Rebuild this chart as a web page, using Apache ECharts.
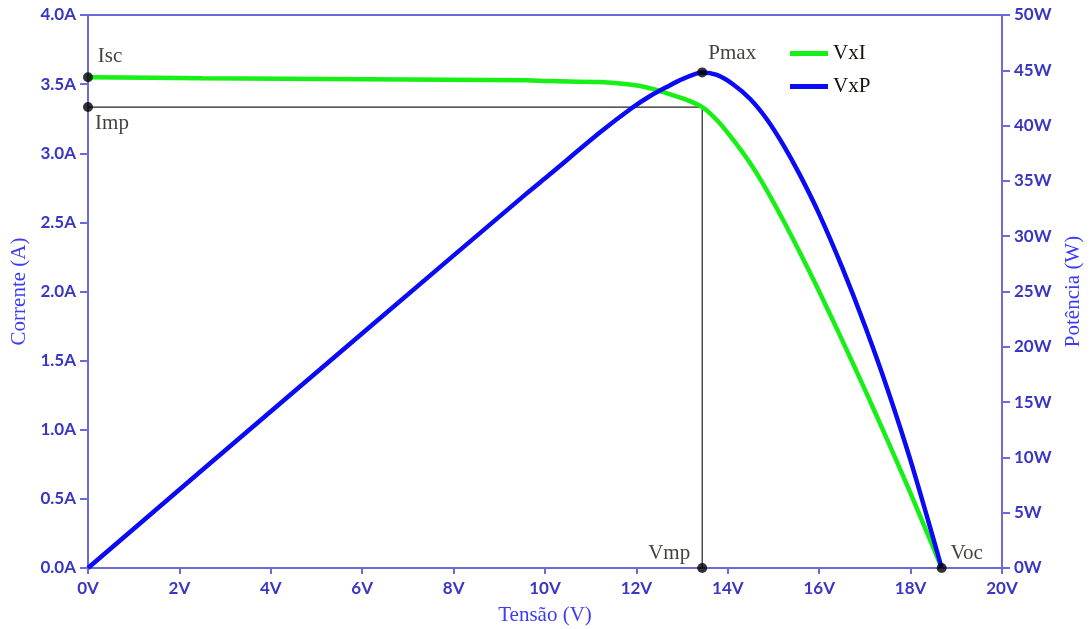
<!DOCTYPE html>
<html>
<head>
<meta charset="utf-8">
<script src="https://cdn.jsdelivr.net/npm/echarts@6/dist/echarts.min.js"></script>
<style>html,body{margin:0;padding:0;background:#fff}#c{width:1090px;height:629px}</style>
</head>
<body>
<div id="c"></div>
<script>
// Data
const voltage = [0, 2.5, 6.1, 9.6, 10.1, 11.2, 11.9, 12.3, 12.66, 13.03, 13.44, 13.76, 14.12, 14.49, 14.85, 15.21, 15.58, 16.0, 16.5, 17.0, 17.5, 18.0, 18.68];
const current = [3.55, 3.543, 3.536, 3.528, 3.522, 3.515, 3.495, 3.47, 3.435, 3.395, 3.334, 3.24, 3.096, 2.927, 2.734, 2.517, 2.28, 2.0, 1.65, 1.29, 0.92, 0.54, 0];
const power   = [0, 8.86, 21.57, 33.87, 35.57, 39.37, 41.59, 42.68, 43.49, 44.24, 44.81, 44.58, 43.72, 42.41, 40.6, 38.28, 35.52, 32.0, 27.2, 21.9, 16.1, 9.7, 0];

const Isc = 3.55, Imp = 3.334, Vmp = 13.44, Voc = 18.68, Pmax = 44.81;

const xTicks = {min: 0, max: 20, interval: 2};
const iTicks = {min: 0, max: 4, interval: 0.5};
const pTicks = {min: 0, max: 50, interval: 5};

const axisColor = '#6c6ad8';
const labelColor = '#3a36c4';
const nameColor = '#3c3cf2';
const tickFont = {color: labelColor, fontFamily: 'Lato', fontWeight: 'bold', fontSize: 17};
const nameFont = {color: nameColor, fontFamily: 'Liberation Serif', fontSize: 21};
const annFont = {color: '#140f0a', fontFamily: 'Liberation Serif', fontSize: 21};

const ivData = voltage.map((v, i) => [v, current[i]]);
const pvData = voltage.map((v, i) => [v, power[i]]);

const chart = echarts.init(document.getElementById('c'), null, {renderer: 'canvas'});
chart.setOption({
  animation: false,
  backgroundColor: '#ffffff',
  grid: {left: 88, right: 88, top: 15, bottom: 61, show: true, borderColor: axisColor, borderWidth: 2,
         containLabel: false, outerBoundsMode: 'none'},
  legend: {
    data: ['VxI', 'VxP'], orient: 'vertical', left: 785, top: 38, itemGap: 12,
    itemWidth: 38, itemHeight: 5, icon: 'rect',
    textStyle: {color: '#140f0a', fontFamily: 'Liberation Serif', fontSize: 21}
  },
  xAxis: {
    type: 'value', min: xTicks.min, max: xTicks.max, interval: xTicks.interval,
    name: 'Tensão (V)', nameLocation: 'middle', nameGap: 37, nameTextStyle: nameFont,
    axisLine: {show: true, lineStyle: {color: axisColor, width: 2}},
    axisTick: {show: true, length: 6, lineStyle: {color: axisColor, width: 2}},
    axisLabel: Object.assign({margin: 12, formatter: v => v + 'V'}, tickFont),
    splitLine: {show: false}
  },
  yAxis: [{
    type: 'value', min: iTicks.min, max: iTicks.max, interval: iTicks.interval,
    name: 'Corrente (A)', nameLocation: 'middle', nameGap: 58, nameTextStyle: nameFont,
    axisLine: {show: true, lineStyle: {color: axisColor, width: 2}},
    axisTick: {show: true, length: 8, lineStyle: {color: axisColor, width: 2}},
    axisLabel: Object.assign({margin: 12, formatter: v => v.toFixed(1) + 'A'}, tickFont),
    splitLine: {show: false}
  }, {
    type: 'value', position: 'right', min: pTicks.min, max: pTicks.max, interval: pTicks.interval,
    name: 'Potência (W)', nameLocation: 'middle', nameGap: 60, nameTextStyle: nameFont,
    axisLine: {show: true, lineStyle: {color: axisColor, width: 2}},
    axisTick: {show: true, length: 8, lineStyle: {color: axisColor, width: 2}},
    axisLabel: Object.assign({margin: 12, formatter: v => v + 'W'}, tickFont),
    splitLine: {show: false}
  }],
  series: [
    {
      name: 'guide', type: 'line', yAxisIndex: 0, symbol: 'none', silent: true,
      lineStyle: {color: '#222', width: 1.2}, z: 1,
      data: [[0, Imp], [Vmp, Imp], [Vmp, 0]]
    },
    {
      name: 'VxI', type: 'line', yAxisIndex: 0, smooth: 0.3, symbol: 'none',
      lineStyle: {color: '#16f016', width: 4.5}, itemStyle: {color: '#16f016'}, z: 2,
      data: ivData
    },
    {
      name: 'VxP', type: 'line', yAxisIndex: 1, smooth: 0.3, symbol: 'none',
      lineStyle: {color: '#0a0af5', width: 4.5}, itemStyle: {color: '#0a0af5'}, z: 3,
      data: pvData
    },
    {
      name: 'pointsI', type: 'scatter', yAxisIndex: 0, symbolSize: 10, z: 5,
      itemStyle: {color: '#000'},
      label: Object.assign({show: true, formatter: p => p.name}, annFont),
      data: [
        {name: 'Isc', value: [0, Isc], label: {position: 'top', offset: [22, 0]}},
        {name: 'Imp', value: [0, Imp], label: {position: 'bottom', offset: [24, -4]}},
        {name: 'Vmp', value: [Vmp, 0], label: {position: 'top', offset: [-33, 6]}},
        {name: 'Voc', value: [Voc, 0], label: {position: 'top', offset: [25, 6]}}
      ]
    },
    {
      name: 'pointsP', type: 'scatter', yAxisIndex: 1, symbolSize: 10, z: 5,
      itemStyle: {color: '#000'},
      label: Object.assign({show: true, formatter: p => p.name}, annFont),
      data: [
        {name: 'Pmax', value: [Vmp, Pmax], label: {position: 'top', offset: [30, 2]}}
      ]
    }
  ]
});
</script>
</body>
</html>
